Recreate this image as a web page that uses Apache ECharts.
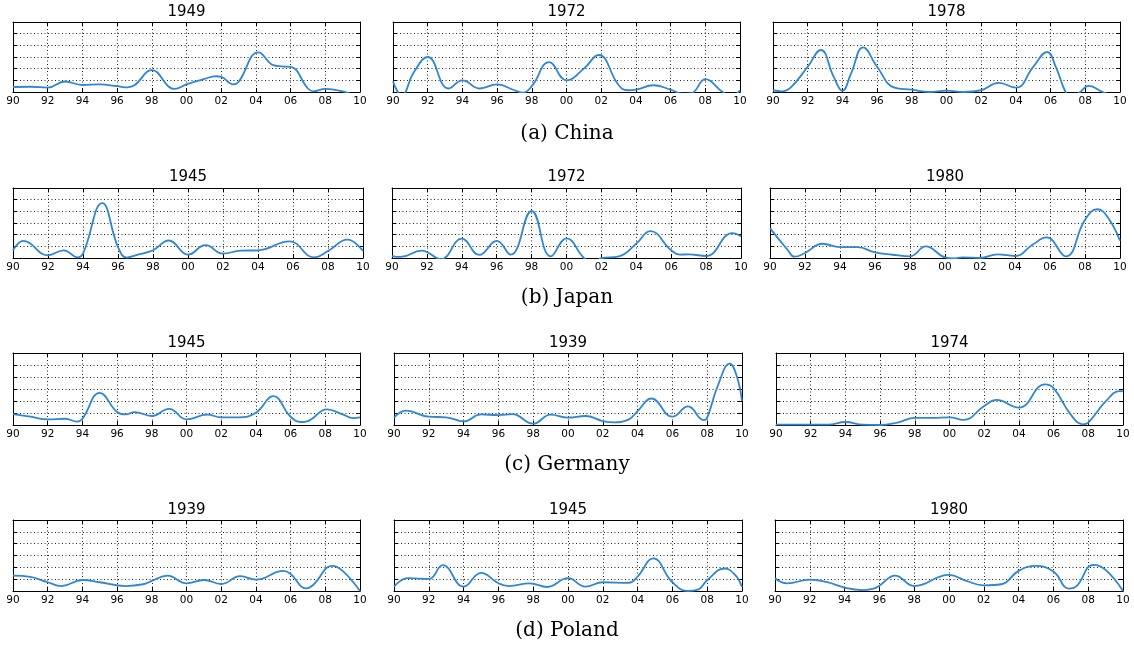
<!DOCTYPE html>
<html>
<head>
<meta charset="utf-8">
<script src="https://cdn.jsdelivr.net/npm/echarts@6/dist/echarts.min.js"></script>
<style>html,body{margin:0;padding:0;background:#fff}#c{width:1134px;height:645px}</style>
</head>
<body>
<div id="c"></div>
<script>
// ---- tick labels / categories ----
const xTickLabels = ['90','92','94','96','98','00','02','04','06','08','10'];
const captions = ['(a) China', '(b) Japan', '(c) Germany', '(d) Poland'];
const panelTitles = [['1949','1972','1978'], ['1945','1972','1980'], ['1945','1939','1974'], ['1939','1945','1980']];

// ---- series values [year, value] ----
const china1949 = [[1990,0.43],[1991,0.45],[1992,0.37],[1993,0.9],[1994,0.6],[1995,0.65],[1996,0.5],[1996.6,0.4],[1997,0.57],[1998,1.87],[1999,0.43],[1999.3,0.26],[2000,0.65],[2001,1.1],[2001.7,1.35],[2002,1.3],[2002.7,0.66],[2003,0.86],[2004.15,3.4],[2005,2.3],[2005.5,2.2],[2006,2.16],[2007,0.3],[2007.3,0.06],[2008,0.26],[2009,0.06],[2009.5,-0.2],[2010,-0.5]];
const china1972 = [[1990,0.9],[1990.5,-0.3],[1991.2,1.7],[1992,3.0],[1993.2,0.3],[1994,1.0],[1995,0.3],[1996,0.66],[1997,0.15],[1997.5,-0.05],[1998,0.5],[1999,2.56],[2000,1.0],[2001,2.0],[2001.85,3.17],[2003,0.6],[2003.5,0.15],[2004,0.2],[2005,0.58],[2006,0.2],[2006.7,-0.15],[2007.2,-0.1],[2008,1.1],[2009,0],[2009.5,-0.3],[2010,0.15]];
const china1978 = [[1990,0.15],[1990.5,0.06],[1991,0.35],[1992,2.16],[1992.75,3.6],[1993.5,1.3],[1994,0.1],[1994.5,1.6],[1995.2,3.83],[1996,2.16],[1997,0.37],[1998,0.2],[1999,0],[2000,0.12],[2001,0],[2002,0.15],[2003,0.78],[2004,0.37],[2005,2.16],[2005.8,3.43],[2006.3,2.16],[2006.9,-0.1],[2007.3,-0.5],[2007.7,0],[2008.2,0.52],[2009,0],[2009.5,-0.3],[2010,-0.5]];
const japan1945 = [[1990,0.66],[1990.6,1.46],[1992,0.23],[1992.9,0.66],[1993.7,0.06],[1994,0.37],[1995.1,4.7],[1996,0.94],[1996.5,0.03],[1997,0.23],[1998,0.66],[1998.9,1.5],[2000,0.29],[2001,1.1],[2002,0.37],[2003,0.63],[2004,0.66],[2005.8,1.43],[2007.2,0.06],[2008,0.6],[2009.1,1.57],[2010,0.6]];
const japan1972 = [[1990,0.17],[1990.5,0.09],[1991.7,0.63],[1992,0.51],[1992.8,-0.1],[1994,1.66],[1995,0.26],[1996,1.46],[1996.8,0.29],[1998,4.03],[1999.1,0.14],[2000,1.69],[2001,0],[2001.5,-0.4],[2002,-0.02],[2003,0.14],[2004,1.23],[2004.8,2.31],[2006,0.66],[2006.5,0.29],[2007,0.31],[2008,0.17],[2009.5,2.14],[2010,1.86]];
const japan1980 = [[1990,2.56],[1991,0.71],[1991.4,0.11],[1992,0.43],[1993,1.22],[1994,0.94],[1995,0.94],[1996,0.48],[1997,0.28],[1998,0.14],[1998.9,0.99],[2000,0.06],[2000.5,-0.03],[2001,0.06],[2002,0],[2003,0.31],[2004,0.17],[2005,1.14],[2005.8,1.76],[2006.9,0.14],[2008,3.27],[2008.7,4.18],[2009.3,3.5],[2010,1.48]];
const germany1945 = [[1990,0.91],[1991,0.69],[1992,0.47],[1993,0.52],[1993.7,0.28],[1994,0.52],[1995,2.68],[1996,1.08],[1996.5,0.88],[1997,1.08],[1998,0.75],[1999,1.35],[2000,0.47],[2001.2,0.86],[2002,0.64],[2003,0.64],[2004,1.02],[2005,2.4],[2006,0.69],[2006.6,0.25],[2007,0.33],[2008.1,1.3],[2009,0.88],[2009.6,0.58],[2010,0.64]];
const germany1939 = [[1990,0.61],[1990.7,1.19],[1992,0.69],[1993,0.64],[1994,0.3],[1995,0.88],[1996,0.83],[1996.8,0.91],[1998,0.11],[1999,0.86],[2000,0.61],[2001,0.75],[2002,0.33],[2002.7,0.22],[2003.5,0.47],[2004,1.16],[2004.8,2.21],[2006,0.69],[2006.9,1.55],[2007.8,0.41],[2008,0.61],[2008.6,3.23],[2009.3,5.11],[2009.7,4.06],[2010,1.99]];
const germany1974 = [[1990,0.03],[1992,0.03],[1993,0.03],[1994,0.25],[1995,0.03],[1996,0],[1997,0.2],[1998,0.59],[1999,0.59],[2000,0.64],[2000.8,0.42],[2002,1.59],[2002.7,2.09],[2004,1.45],[2005.5,3.38],[2006,3.07],[2007,0.84],[2007.7,0.06],[2008,0.2],[2009,1.96],[2009.8,2.82],[2010,2.8]];
const poland1939 = [[1990,1.3],[1991,1.19],[1992,0.74],[1992.8,0.42],[1994,0.93],[1995,0.74],[1996.5,0.42],[1997.5,0.57],[1998,0.85],[1998.9,1.3],[2000,0.65],[2001,0.93],[2002,0.59],[2003.1,1.25],[2004,0.96],[2005.6,1.7],[2006,1.44],[2006.9,0.23],[2007.3,0.51],[2008.4,2.12],[2009,1.7],[2010,0]];
const poland1945 = [[1990,0.37],[1990.8,1.08],[1992,1.02],[1992.8,2.18],[1994,0.37],[1995,1.53],[1996,0.65],[1996.6,0.42],[1997.8,0.65],[1998.8,0.34],[2000,1.08],[2001,0.37],[2002,0.74],[2003.5,0.68],[2004,1.22],[2004.9,2.75],[2006,0.74],[2006.9,0],[2007.5,0.14],[2008,0.91],[2009,1.9],[2009.6,1.36],[2010,0.34]];
const poland1980 = [[1990,1.08],[1990.7,0.65],[1992,0.96],[1993,0.74],[1994,0.28],[1995,0.08],[1995.7,0.23],[1996,0.45],[1996.9,1.3],[1998,0.42],[2000,1.36],[2001,0.85],[2002,0.48],[2003,0.57],[2004,1.7],[2005,2.12],[2006,1.64],[2006.9,0.2],[2007.3,0.37],[2008.3,2.21],[2009,1.78],[2010,0]];

const panelData = [china1949, china1972, china1978, japan1945, japan1972, japan1980, germany1945, germany1939, germany1974, poland1939, poland1945, poland1980];

// ---- layout ----
const rowTops = [22, 188, 353, 520];
const rowHeights = [70, 70, 72, 71];
const colBoxes = [
  [[13,347],[393,347],[773,347]],
  [[13,350],[392,349],[770,350]],
  [[13,347],[394,348],[776,347]],
  [[13,347],[394,348],[775,348]]
];
const titleY = [12.5, 177.5, 343.5, 510.5];
const captionY = [134, 298, 465, 631];

const lineColor = '#2f86d2';
const grids = [], xAxes = [], yAxes = [], series = [], graphics = [];
const dotted = {color: '#222', width: 1, type: [1, 2.5]};
for (let r = 0; r < 4; r++) {
  for (let c = 0; c < 3; c++) {
    const i = r * 3 + c;
    const [left, width] = colBoxes[r][c];
    grids.push({left: left, top: rowTops[r], width: width, height: rowHeights[r], containLabel: false});
    const baseX = {type: 'value', gridIndex: i, min: 1990, max: 2010, interval: 2,
      axisLine: {show: true, onZero: false, lineStyle: {color: '#000', width: 1}},
      axisTick: {show: true, inside: true, length: 4, lineStyle: {color: '#000'}}};
    xAxes.push(Object.assign({}, baseX, {position: 'bottom',
      axisLabel: {show: true, margin: 4, color: '#000', fontSize: 10.5, fontFamily: 'DejaVu Sans',
        formatter: v => xTickLabels[Math.round((v - 1990) / 2)]},
      splitLine: {show: true, lineStyle: dotted}}));
    xAxes.push(Object.assign({}, baseX, {position: 'top', axisLabel: {show: false}, splitLine: {show: false}}));
    const baseY = {type: 'value', gridIndex: i, min: 0, max: 6, interval: 1,
      axisLine: {show: true, onZero: false, lineStyle: {color: '#000', width: 1}},
      axisTick: {show: true, inside: true, length: 4, lineStyle: {color: '#000'}},
      axisLabel: {show: false}};
    yAxes.push(Object.assign({}, baseY, {position: 'left', splitLine: {show: true, lineStyle: dotted}}));
    yAxes.push(Object.assign({}, baseY, {position: 'right', splitLine: {show: false}}));
    series.push({type: 'line', xAxisIndex: 2 * i, yAxisIndex: 2 * i, data: panelData[i],
      smooth: 0.45, showSymbol: false, clip: true, silent: true,
      lineStyle: {color: lineColor, width: 1.8}, z: 5});
    graphics.push({type: 'text', x: left + width / 2, y: titleY[r],
      style: {text: panelTitles[r][c], font: '15px "DejaVu Sans"', fill: '#000', textAlign: 'center', textVerticalAlign: 'middle'}});
  }
  graphics.push({type: 'text', x: 567, y: captionY[r],
    style: {text: captions[r], font: '20px "DejaVu Serif"', fill: '#000', textAlign: 'center', textVerticalAlign: 'middle'}});
}

const chart = echarts.init(document.getElementById('c'), null, {renderer: 'canvas'});
chart.setOption({
  animation: false,
  backgroundColor: '#fff',
  grid: grids, xAxis: xAxes, yAxis: yAxes, series: series,
  graphic: graphics
});
</script>
</body>
</html>
